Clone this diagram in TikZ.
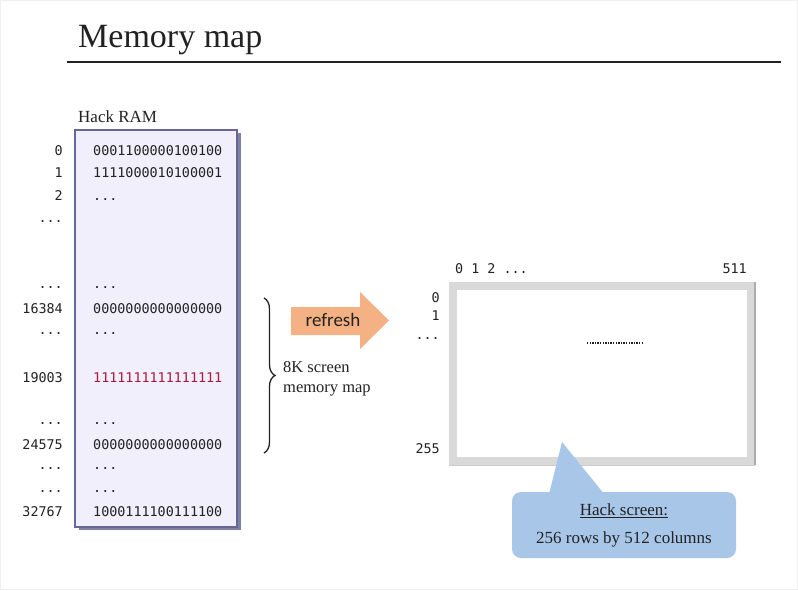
\documentclass[tikz,border=0pt]{standalone}
\usepackage{fontspec}
\setmainfont{Liberation Serif}
\newfontfamily\codefont{DejaVu Sans Mono}
\newfontfamily\calfont{Carlito}
\usetikzlibrary{positioning,shadows,decorations.pathreplacing}

\definecolor{ramfill}{RGB}{241,239,252}
\definecolor{ramline}{RGB}{102,102,152}
\definecolor{ramshade}{RGB}{86,86,132}
\definecolor{wordred}{RGB}{170,28,62}
\definecolor{textdark}{RGB}{34,34,34}
\definecolor{refreshorange}{RGB}{244,177,131}
\definecolor{framegray}{RGB}{217,217,217}
\definecolor{calloutblue}{RGB}{168,199,232}

\begin{document}
\begin{tikzpicture}[x=1pt, y=-1pt]
      \tikzstyle{addr} = [inner sep=0, anchor=base east, text=textdark, font=\codefont\fontsize{13.4}{16}\selectfont]
      \tikzstyle{word} = [inner sep=0, anchor=base west, text=textdark, font=\codefont\fontsize{13.4}{16}\selectfont]
      \tikzstyle{rambox} = [rectangle, draw=ramline, line width=1.4, fill=ramfill, minimum width=162, minimum height=397,
        drop shadow={shadow xshift=4pt, shadow yshift=-3pt, fill=ramshade, opacity=0.75}]
      \tikzstyle{screenbox} = [rectangle, draw=framegray, line width=8, fill=white, minimum width=298, minimum height=175]
      \tikzstyle{serif} = [inner sep=0, text=textdark]

      \useasboundingbox (0,0) rectangle (798,590);
      \fill[white] (0,0) rectangle (798,590);
      \draw[gray!12] (0.5,0.5) rectangle (797.5,589.5);

      % title
      \node (title) [serif, anchor=base west, font=\fontsize{34}{40}\selectfont] at (78,47) {Memory map};
      \draw[textdark, line width=1.4] (67,62) -- (781,62);

      % RAM
      \node (ram-label) [serif, anchor=base west, font=\fontsize{17}{20}\selectfont] at (78,122) {Hack RAM};
      \node (ram) [rambox] at (156,328.5) {};

      \node (a0) [addr] at (63,155) {0};
      \node (a1) [addr] at (63,177) {1};
      \node (a2) [addr] at (63,200) {2};
      \node (a3) [addr] at (63,222) {...};
      \node (a4) [addr] at (63,288) {...};
      \node (a5) [addr] at (63,313) {16384};
      \node (a6) [addr] at (63,334) {...};
      \node (a7) [addr] at (63,382) {19003};
      \node (a8) [addr] at (63,424) {...};
      \node (a9) [addr] at (63,449) {24575};
      \node (a10) [addr] at (63,469) {...};
      \node (a11) [addr] at (63,492) {...};
      \node (a12) [addr] at (63,516) {32767};

      \node (w0) [right=30pt of a0.base east, word] {0001100000100100};
      \node (w1) [right=30pt of a1.base east, word] {1111000010100001};
      \node (w2) [right=30pt of a2.base east, word] {...};
      \node (w4) [right=30pt of a4.base east, word] {...};
      \node (w5) [right=30pt of a5.base east, word] {0000000000000000};
      \node (w6) [right=30pt of a6.base east, word] {...};
      \node (w7) [right=30pt of a7.base east, word, text=wordred] {1111111111111111};
      \node (w8) [right=30pt of a8.base east, word] {...};
      \node (w9) [right=30pt of a9.base east, word] {0000000000000000};
      \node (w10) [right=30pt of a10.base east, word] {...};
      \node (w11) [right=30pt of a11.base east, word] {...};
      \node (w12) [right=30pt of a12.base east, word] {1000111100111100};

      % brace over the screen words
      \coordinate (brace-top) at (264,298);
      \coordinate (brace-bottom) at (264,453);
      \draw[textdark, line width=1.3, decorate, decoration={brace, amplitude=11}] (brace-top) -- (brace-bottom);
      \node (brace-label) [serif, anchor=west, align=left, font=\fontsize{16.5}{20}\selectfont] at (283,379) {8K screen\\memory map};

      % refresh arrow
      \fill[refreshorange] (291,307) -- (360,307) -- (360,292) -- (389,320.5) -- (360,349) -- (360,335) -- (291,335) -- cycle;
      \node (refresh) [inner sep=0, text=textdark, font=\calfont\fontsize{19}{22}\selectfont] at (333,320) {refresh};

      % screen
      \node (screen) [screenbox] at (602,373.5) {};
      \draw[gray!65, line width=1.3] (screen.north east) -- (screen.south east);
      \draw[gray!40, line width=1] (screen.south west) -- (screen.south east);

      \node (c0) [word] at (455,273) {0 1 2 ...};
      \node (c511) [addr] at (747,273) {511};
      \node (r0) [addr] at (440,302) {0};
      \node (r1) [addr] at (440,320) {1};
      \node (r2) [addr] at (440,339) {...};
      \node (r255) [addr] at (440,453) {255};

      \coordinate (dots-start) at (587,343);
      \coordinate (dots-end) at (644,343);
      \draw[textdark, line width=1.4, dash pattern=on 1.3pt off 1.3pt] (dots-start) -- (dots-end);

      % callout
      \node (callout) [rectangle, rounded corners=9, fill=calloutblue, minimum width=224, minimum height=66,
        align=center, text=textdark, font=\fontsize{17}{28}\selectfont] at (624,525) {\underline{Hack screen:}\\256 rows by 512 columns};
      \coordinate (callout-tip) at (562,442);
      \fill[calloutblue] (callout-tip) -- ([xshift=37pt, yshift=-3pt]callout.north west) -- ([xshift=93pt, yshift=-3pt]callout.north west) -- cycle;
    \end{tikzpicture}
\end{document}
